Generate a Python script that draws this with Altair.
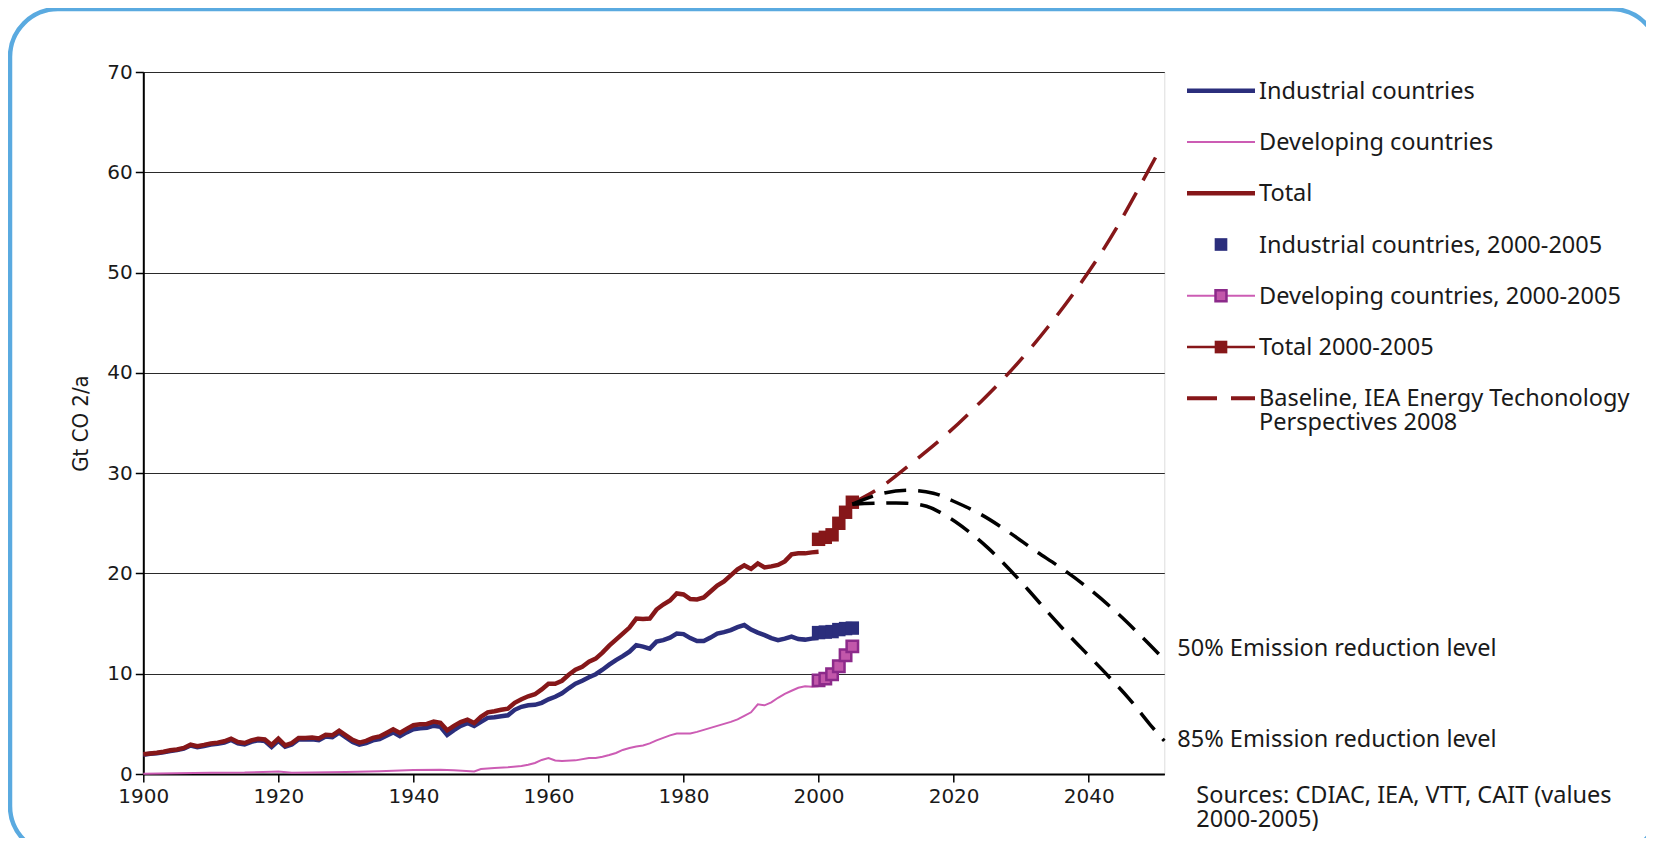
import altair as alt
import pandas as pd

# ---------------- data ----------------
hist_years = list(range(1900, 2001))
total_hist = [
    1.96, 2.05, 2.12, 2.22, 2.36, 2.45, 2.60, 2.93, 2.78, 2.90,
    3.05, 3.13, 3.26, 3.53, 3.19, 3.09, 3.35, 3.52, 3.45, 2.90,
    3.53, 2.86, 3.09, 3.59, 3.60, 3.63, 3.55, 3.92, 3.86, 4.32,
    3.85, 3.40, 3.13, 3.30, 3.60, 3.75, 4.10, 4.46, 4.09, 4.50,
    4.86, 4.96, 4.99, 5.22, 5.10, 4.36, 4.80, 5.18, 5.42, 5.08,
    5.70, 6.15, 6.25, 6.40, 6.52, 7.10, 7.45, 7.75, 7.95, 8.44,
    9.00, 9.00, 9.30, 9.90, 10.40, 10.70, 11.20, 11.50, 12.10, 12.80,
    13.40, 14.00, 14.60, 15.50, 15.45, 15.50, 16.40, 16.90, 17.30, 18.00,
    17.90, 17.45, 17.40, 17.60, 18.20, 18.80, 19.20, 19.80, 20.40, 20.80,
    20.45, 21.00, 20.60, 20.70, 20.85, 21.20, 21.90, 22.00, 22.00, 22.10,
    22.15,
]
industrial_hist = [
    1.92, 2.01, 2.08, 2.17, 2.30, 2.39, 2.53, 2.84, 2.68, 2.80,
    2.94, 3.01, 3.13, 3.40, 3.06, 2.95, 3.20, 3.36, 3.28, 2.70,
    3.30, 2.72, 2.95, 3.44, 3.44, 3.47, 3.38, 3.74, 3.67, 4.12,
    3.65, 3.20, 2.93, 3.08, 3.36, 3.48, 3.82, 4.15, 3.78, 4.15,
    4.46, 4.55, 4.60, 4.82, 4.70, 3.90, 4.38, 4.80, 5.08, 4.78,
    5.20, 5.60, 5.65, 5.75, 5.85, 6.40, 6.70, 6.85, 6.90, 7.10,
    7.45, 7.70, 8.05, 8.55, 9.00, 9.30, 9.65, 9.95, 10.40, 10.90,
    11.35, 11.75, 12.20, 12.85, 12.70, 12.50, 13.20, 13.35, 13.60, 14.00,
    13.95, 13.55, 13.25, 13.25, 13.60, 14.00, 14.15, 14.35, 14.65, 14.85,
    14.40, 14.10, 13.85, 13.55, 13.35, 13.50, 13.70, 13.45, 13.40, 13.50,
    13.55,
]
dev_years = [1900, 1905, 1910, 1915, 1919, 1920, 1922, 1925, 1930, 1935,
             1940, 1944, 1946, 1949, 1950, 1952, 1954, 1956, 1957, 1958,
             1959, 1960, 1961, 1962, 1964, 1966, 1967, 1968, 1969, 1970,
             1971, 1972, 1973, 1974, 1975, 1976, 1977, 1978, 1979, 1980,
             1981, 1982, 1983, 1984, 1985, 1986, 1987, 1988, 1989, 1990,
             1991, 1992, 1993, 1994, 1995, 1996, 1997, 1998, 1999, 2000]
dev_hist = [0.03, 0.07, 0.12, 0.14, 0.22, 0.24, 0.12, 0.15, 0.20, 0.28,
            0.40, 0.43, 0.38, 0.25, 0.50, 0.60, 0.68, 0.80, 0.92, 1.10,
            1.40, 1.60, 1.35, 1.30, 1.36, 1.60, 1.60, 1.72, 1.90, 2.10,
            2.40, 2.60, 2.75, 2.85, 3.05, 3.35, 3.60, 3.85, 4.03, 4.03,
            4.05, 4.20, 4.40, 4.60, 4.80, 5.00, 5.20, 5.45, 5.80, 6.15,
            6.95, 6.85, 7.15, 7.60, 8.00, 8.30, 8.60, 8.75, 8.70, 8.74]

recent_years = [2000, 2001, 2002, 2003, 2004, 2005]
industrial_recent = [14.10, 14.15, 14.20, 14.40, 14.50, 14.55]
developing_recent = [9.34, 9.51, 9.94, 10.74, 11.84, 12.73]
total_recent = [23.40, 23.60, 23.85, 25.00, 26.10, 27.10]

baseline_years = [2005, 2009, 2014, 2019, 2024, 2029, 2034, 2039, 2044, 2047, 2050]
baseline_vals = [27.0, 28.5, 31.1, 33.9, 37.1, 40.6, 44.6, 49.1, 54.3, 57.9, 61.6]

red50_years = [2005, 2009, 2013, 2017, 2020, 2024, 2028, 2032, 2036, 2040, 2044, 2048, 2051.2]
red50_vals = [26.9, 27.9, 28.3, 28.0, 27.2, 25.9, 24.2, 22.3, 20.5, 18.5, 16.2, 13.6, 11.4]

red85_years = [2005, 2009, 2013, 2016, 2019, 2022, 2025, 2028, 2031, 2034, 2037, 2040,
               2043, 2046, 2049, 2051.2]
red85_vals = [26.9, 27.0, 27.0, 26.7, 25.7, 24.3, 22.6, 20.6, 18.4, 16.1, 13.9, 11.8,
              9.7, 7.5, 5.0, 3.3]

annot_labels = ["50% Emission reduction level", "85% Emission reduction level"]
annot_years = [2051.2, 2051.2]
annot_vals = [12.5, 3.38]

source_text = "Sources: CDIAC, IEA, VTT, CAIT (values\n2000-2005)"
source_year = [2051.2]
source_val = [-2.2]

legend_labels = ["Industrial countries", "Developing countries", "Total",
                 "Industrial countries, 2000-2005", "Developing countries, 2000-2005",
                 "Total 2000-2005"]
legend_label_multi = "Baseline, IEA Energy Techonology\nPerspectives 2008"

x_ticks = [1900, 1920, 1940, 1960, 1980, 2000, 2020, 2040]
y_ticks = [0, 10, 20, 30, 40, 50, 60, 70]

# ---------------- styling ----------------
NAVY = "#2b2e7c"
PINK = "#cc5cb4"
RED = "#861719"
PURPLE = "#8c2a8a"
PINKFILL = "#c257aa"
FRAME = "#5aaae0"
TXT = "#1a1a1a"
FONT = "Noto Sans"
FS = 23.5
LH = 23.5
TITLE_FONT = "DejaVu Sans Condensed, Roboto, Liberation Sans, sans-serif"

W, H = 1021, 702
xs = alt.Scale(domain=[1900, 2051.2], nice=False, zero=False)
ys = alt.Scale(domain=[0, 70], nice=False, zero=False)

x_axis = alt.Axis(values=x_ticks, format="d", grid=False, title="",
                  tickSize=8, tickColor="black", tickWidth=1.5,
                  domainColor="black", domainWidth=2,
                  labelFont="DejaVu Sans", labelFontSize=20, labelColor=TXT,
                  labelPadding=4, labelFlush=False, labelOverlap=False)
y_axis = alt.Axis(values=y_ticks, grid=True, gridColor="#2a2a2a", gridWidth=1.2,
                  tickSize=8, tickColor="black", tickWidth=1.5,
                  domainColor="black", domainWidth=2,
                  labelFont="DejaVu Sans", labelFontSize=20, labelColor=TXT,
                  labelPadding=3, labelFlush=False,
                  title="Gt CO 2/a", titleFont=TITLE_FONT,
                  titleFontSize=22, titleFontWeight="normal", titleColor=TXT,
                  titleX=-63, titleY=H / 2, titleAngle=270,
                  titleAlign="center", titleBaseline="middle")


def enc(chart):
    return chart.encode(
        x=alt.X("year:Q", scale=xs, axis=x_axis),
        y=alt.Y("value:Q", scale=ys, axis=y_axis),
    )


def df(years, vals):
    return pd.DataFrame({"year": years, "value": vals})


ind_line = enc(alt.Chart(df(hist_years, industrial_hist)).mark_line(color=NAVY, strokeWidth=4.5))
dev_line = enc(alt.Chart(df(dev_years, dev_hist)).mark_line(color=PINK, strokeWidth=2))
tot_line = enc(alt.Chart(df(hist_years, total_hist)).mark_line(color=RED, strokeWidth=4.5))

dev_r_line = enc(alt.Chart(df(recent_years, developing_recent)).mark_line(color=PINK, strokeWidth=2))
tot_r_line = enc(alt.Chart(df(recent_years, total_recent)).mark_line(color=RED, strokeWidth=2.5))
ind_sq = enc(alt.Chart(df(recent_years, industrial_recent)).mark_square(color=NAVY, size=180, opacity=1))
dev_sq = enc(alt.Chart(df(recent_years, developing_recent)).mark_square(
    fill=PINKFILL, stroke=PURPLE, strokeWidth=2.5, size=130, opacity=1, fillOpacity=1))
tot_sq = enc(alt.Chart(df(recent_years, total_recent)).mark_square(color=RED, size=180, opacity=1))

base_line = enc(alt.Chart(df(baseline_years, baseline_vals)).mark_line(
    color=RED, strokeWidth=3.5, strokeDash=[26, 14], interpolate="monotone"))
l50 = enc(alt.Chart(df(red50_years, red50_vals)).mark_line(
    color="black", strokeWidth=3.5, strokeDash=[22, 12], interpolate="catmull-rom"))
l85 = enc(alt.Chart(df(red85_years, red85_vals)).mark_line(
    color="black", strokeWidth=3.5, strokeDash=[22, 12], interpolate="catmull-rom"))

annot = enc(alt.Chart(pd.DataFrame({"year": annot_years, "value": annot_vals, "label": annot_labels}))
            .mark_text(align="left", baseline="middle", dx=13, font=FONT, fontSize=FS, color=TXT)
            ).encode(text="label:N")

sources = enc(alt.Chart(pd.DataFrame({"year": source_year, "value": source_val, "label": [source_text]}))
              .mark_text(align="left", baseline="middle", dx=32, font=FONT, fontSize=FS,
                         color=TXT, lineBreak="\n", lineHeight=LH)
              ).encode(text="label:N")

frame = alt.Chart(pd.DataFrame({"k": [0]})).mark_rect(
    filled=False, stroke=FRAME, strokeWidth=4.5, cornerRadius=48
).encode(x=alt.value(-133.3), x2=alt.value(1516), y=alt.value(-63), y2=alt.value(782))

main = alt.layer(frame, ind_line, dev_line, tot_line, dev_r_line, tot_r_line,
                 ind_sq, dev_sq, tot_sq, base_line, l50, l85, annot, sources)

# ---------------- hand-built legend (own scales) ----------------
lx = alt.Scale(domain=[0, 1], range=[1043.7, 1111.7])
ly = alt.Scale(domain=[0, 6], range=[18.7, 326.3])


def leg_rule(row, color, width, dash=None):
    kw = dict(color=color, strokeWidth=width)
    if dash:
        kw["strokeDash"] = dash
    return alt.Chart(pd.DataFrame({"row": [row], "start": [0.0], "end": [1.0]})).mark_rule(**kw).encode(
        x=alt.X("start:Q", scale=lx, axis=None), x2="end:Q",
        y=alt.Y("row:Q", scale=ly, axis=None))


def leg_square(row, **kw):
    return alt.Chart(pd.DataFrame({"row": [row], "mid": [0.5]})).mark_square(opacity=1, **kw).encode(
        x=alt.X("mid:Q", scale=lx, axis=None), y=alt.Y("row:Q", scale=ly, axis=None))


leg_text = alt.Chart(pd.DataFrame({"row": list(range(6)), "end": [1.0] * 6, "label": legend_labels})).mark_text(
    align="left", baseline="middle", dx=4, dy=1, font=FONT, fontSize=FS, color=TXT
).encode(x=alt.X("end:Q", scale=lx, axis=None), y=alt.Y("row:Q", scale=ly, axis=None), text="label:N")

leg_text2 = alt.Chart(pd.DataFrame({"row": [6], "end": [1.0], "label": [legend_label_multi]})).mark_text(
    align="left", baseline="middle", dx=4, dy=1, font=FONT, fontSize=FS, color=TXT,
    lineBreak="\n", lineHeight=LH
).encode(x=alt.X("end:Q", scale=lx, axis=None), y=alt.Y("row:Q", scale=ly, axis=None), text="label:N")

legend = alt.layer(
    leg_rule(0, NAVY, 4.5),
    leg_rule(1, PINK, 2),
    leg_rule(2, RED, 4.5),
    leg_square(3, color=NAVY, size=160),
    leg_rule(4, PINK, 2),
    leg_square(4, fill=PINKFILL, stroke=PURPLE, strokeWidth=2.5, size=120, fillOpacity=1),
    leg_rule(5, RED, 2.5),
    leg_square(5, color=RED, size=160),
    leg_rule(6, RED, 4, dash=[30, 14]),
    leg_text, leg_text2,
)

chart = alt.layer(main, legend).resolve_scale(x="independent", y="independent").properties(
    width=W, height=H,
    autosize=alt.AutoSizeParams(type="none"),
    padding={"left": 135.3, "top": 64, "right": 481.7, "bottom": 64},
    background="white",
).configure_view(stroke="#8c8c8c", strokeWidth=2).configure(font=FONT)

chart.save("out.html", embed_options={"renderer": "svg", "actions": False})
